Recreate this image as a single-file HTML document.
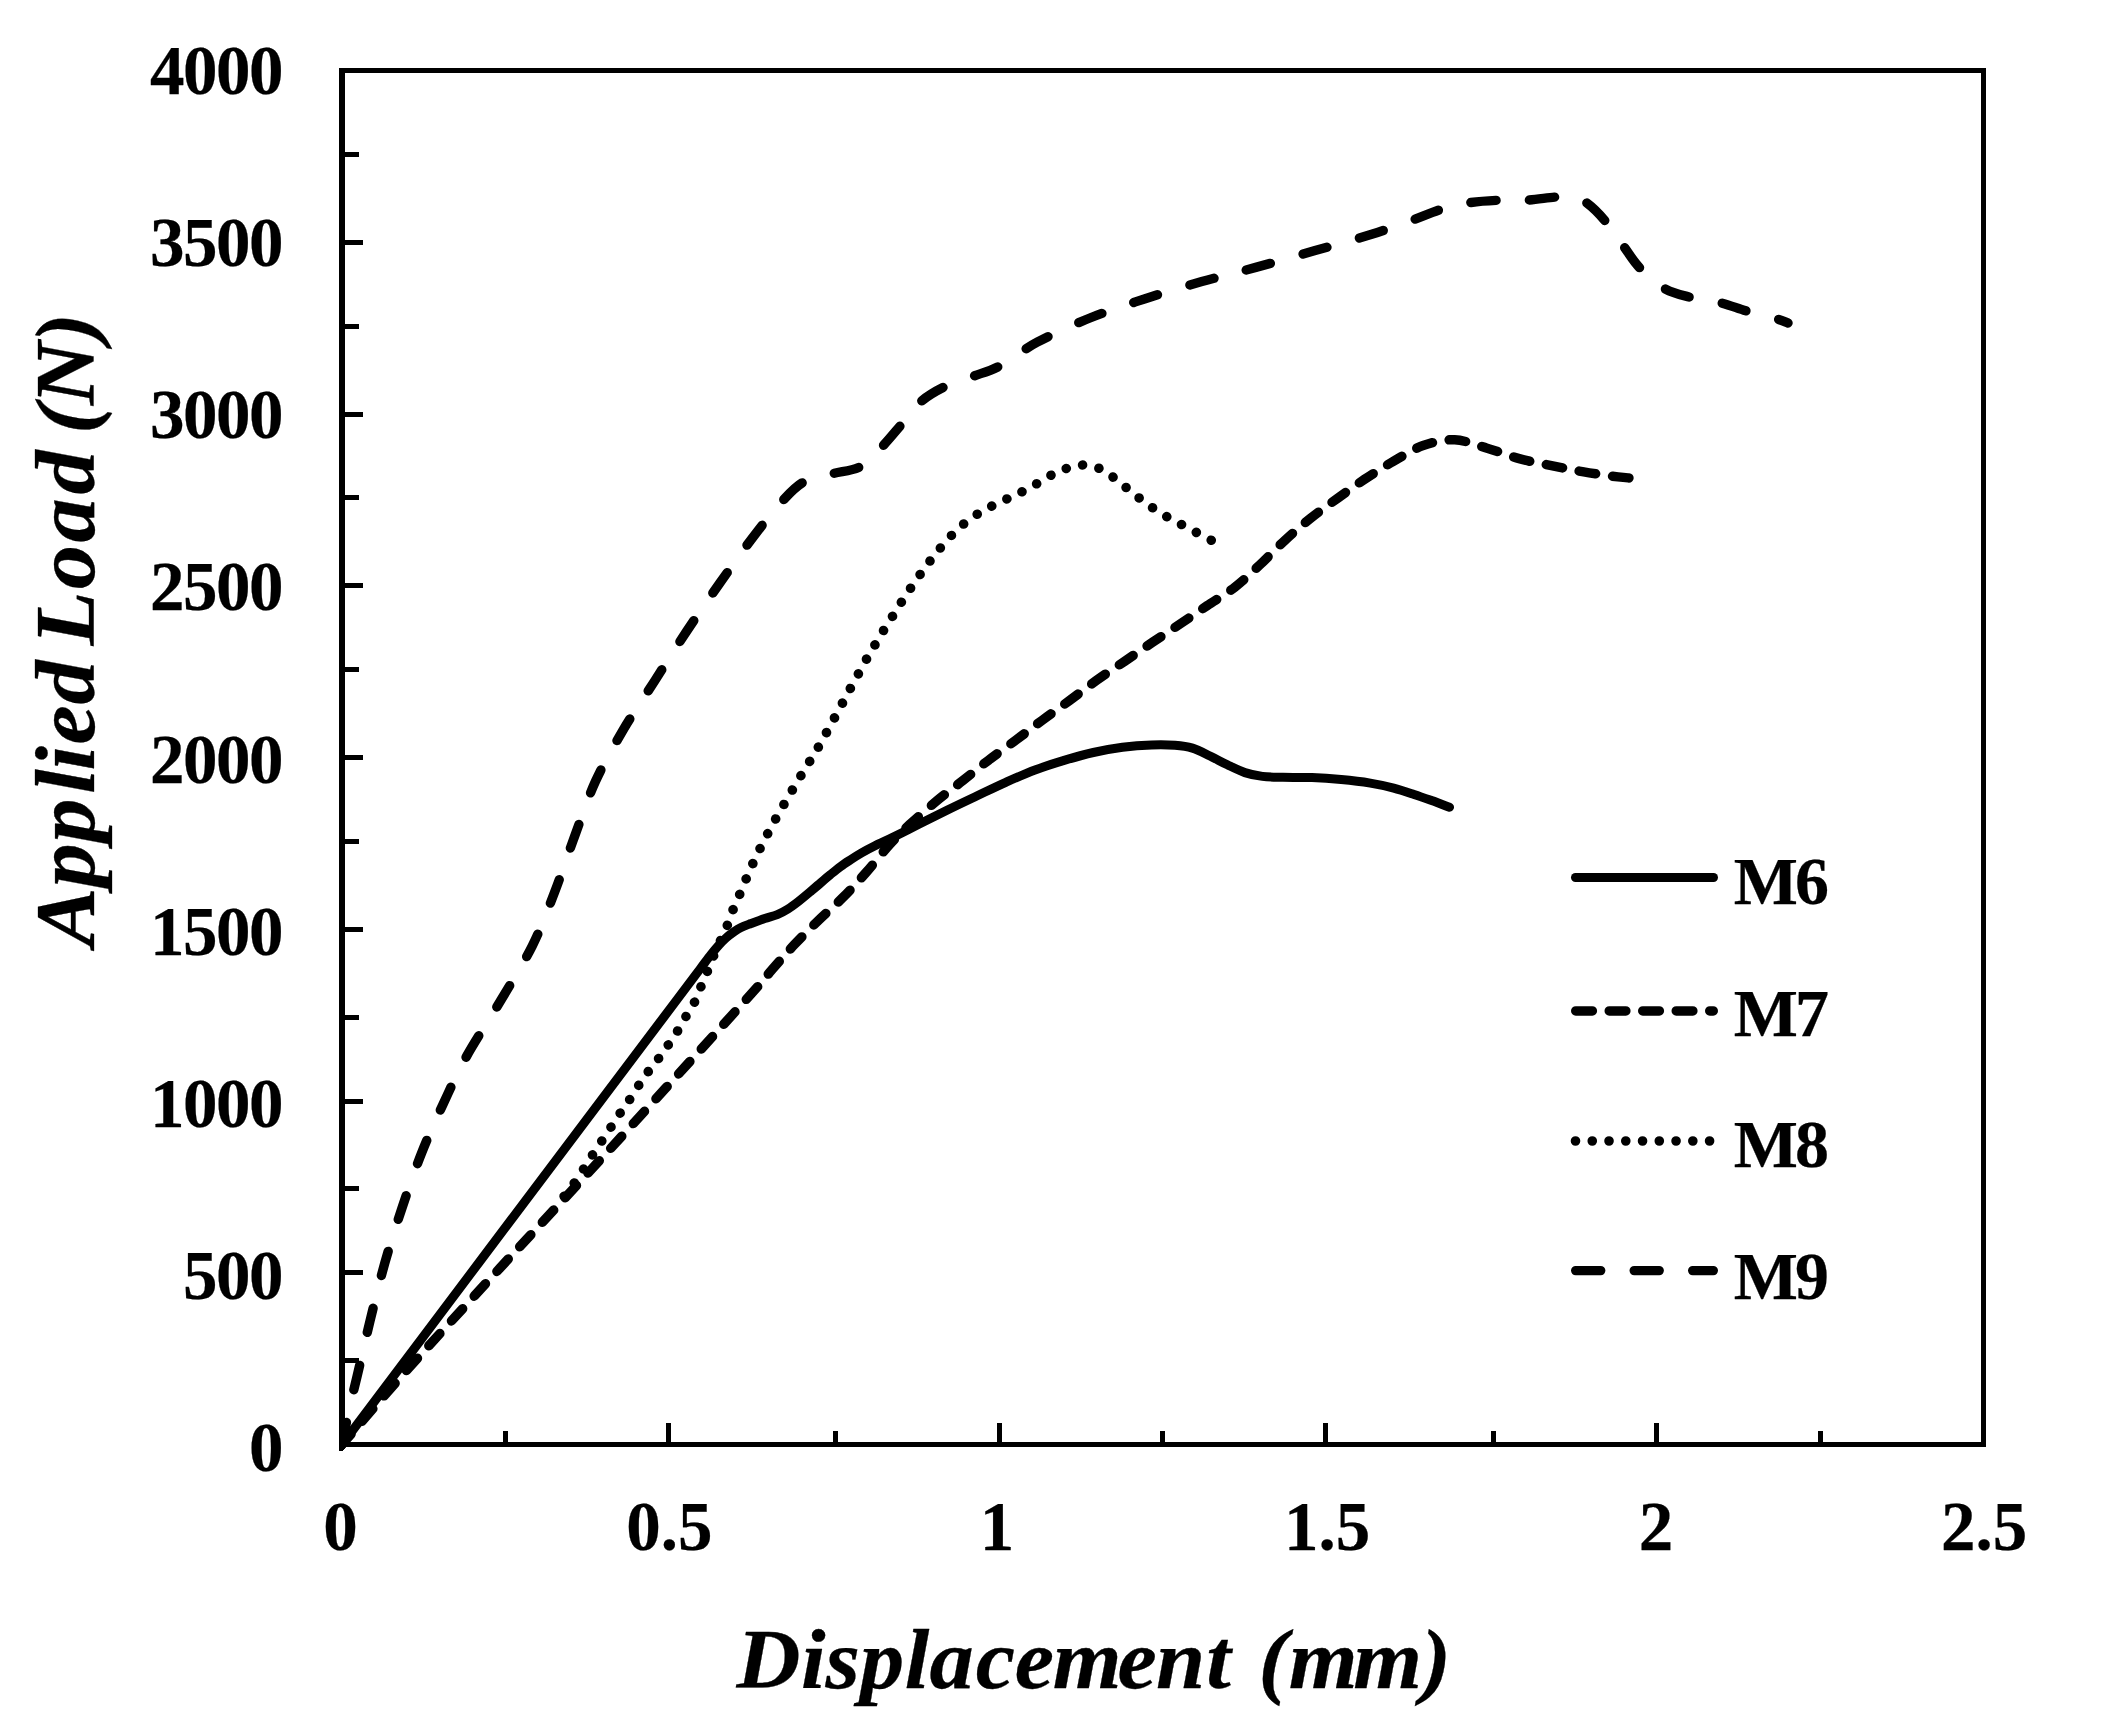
<!DOCTYPE html>
<html lang="en">
<head>
<meta charset="utf-8">
<title>Applied Load vs Displacement</title>
<style>
html,body{margin:0;padding:0;background:#fff;}
body{width:2126px;height:1733px;overflow:hidden;}
svg{display:block;}
text{font-family:"Liberation Serif","Times New Roman",serif;font-weight:bold;fill:#000;stroke:#000;stroke-width:0.25px;stroke-linejoin:round;}
.tick{font-size:69px;}
.leg{font-size:68px;}
.ttl{font-style:italic;stroke-width:0.3px;}
.crv{fill:none;stroke:#000;stroke-linecap:round;stroke-linejoin:round;}
</style>
</head>
<body>
<svg width="2126" height="1733" viewBox="0 0 2126 1733" shape-rendering="crispEdges">
<rect x="0" y="0" width="2126" height="1733" fill="#fff"/>
<g fill="#000">
<rect x="339" y="68" width="6" height="1379"/>
<rect x="1981" y="68" width="5" height="1379"/>
<rect x="339" y="68" width="1647" height="5"/>
<rect x="339" y="1442" width="1647" height="5"/>
<rect x="345" y="240" width="18" height="5"/>
<rect x="345" y="412" width="18" height="5"/>
<rect x="345" y="583" width="18" height="5"/>
<rect x="345" y="755" width="18" height="5"/>
<rect x="345" y="927" width="18" height="5"/>
<rect x="345" y="1099" width="18" height="5"/>
<rect x="345" y="1270" width="18" height="5"/>
<rect x="345" y="152" width="14" height="5"/>
<rect x="345" y="324" width="14" height="5"/>
<rect x="345" y="495" width="14" height="5"/>
<rect x="345" y="667" width="14" height="5"/>
<rect x="345" y="839" width="14" height="5"/>
<rect x="345" y="1015" width="14" height="5"/>
<rect x="345" y="1186" width="14" height="5"/>
<rect x="345" y="1358" width="14" height="5"/>
<rect x="666" y="1423" width="5" height="19"/>
<rect x="997" y="1423" width="5" height="19"/>
<rect x="1323" y="1423" width="5" height="19"/>
<rect x="1654" y="1423" width="5" height="19"/>
<rect x="503" y="1431" width="5" height="11"/>
<rect x="833" y="1431" width="5" height="11"/>
<rect x="1160" y="1431" width="5" height="11"/>
<rect x="1491" y="1431" width="5" height="11"/>
<rect x="1818" y="1431" width="5" height="11"/>
</g>
<g class="tick" text-anchor="end" letter-spacing="-1.5">
<text x="282" y="94.2">4000</text>
<text x="282" y="266.3">3500</text>
<text x="282" y="438.4">3000</text>
<text x="282" y="610.4">2500</text>
<text x="282" y="782.5">2000</text>
<text x="282" y="954.6">1500</text>
<text x="282" y="1126.7">1000</text>
<text x="282" y="1298.8">500</text>
<text x="282" y="1470.8">0</text>
</g>
<g class="tick" text-anchor="middle">
<text x="340.5" y="1549.5">0</text>
<text x="669.3" y="1549.5">0.5</text>
<text x="997.0" y="1549.5">1</text>
<text x="1327.0" y="1549.5">1.5</text>
<text x="1656.0" y="1549.5">2</text>
<text x="1984.0" y="1549.5">2.5</text>
</g>
<text class="ttl" id="xt" transform="translate(735.8,1688.2) scale(1.041,1)" font-size="85" dx="0.77 0.38 0.00 0.00 0.67 0.00 2.02 -0.38 -1.15 -4.03 -0.58 1.06 0.00 5.09 0.96 -4.32 -0.48">Displacement (mm)</text>
<text class="ttl" id="yt" transform="translate(93.7,946.5) rotate(-90) scale(1.04,1)" font-size="85" dx="0.00 0.00 0.48 4.71 -1.35 1.44 0.67 0.00 -6.92 2.12 2.60 3.56 0.00 -5.38 -0.96 -0.96">Applied Load (N)</text>
<defs><clipPath id="pc"><rect x="339" y="60" width="1660" height="1391"/></clipPath></defs>
<path d="M339 1447H345V1448L342.5 1451H339Z" fill="#000"/>
<g class="crv" shape-rendering="geometricPrecision" stroke-width="9" clip-path="url(#pc)">
<path id="m7" stroke-width="9.5" d="M342.0 1444.5 C352.7 1432.2 379.7 1400.4 406.0 1371.0 C432.3 1341.6 467.7 1303.2 500.0 1268.0 C532.3 1232.8 559.0 1204.7 600.0 1160.0 C641.0 1115.3 717.0 1031.7 745.7 1000.0 C774.4 968.3 763.9 978.8 772.0 969.6 C780.1 960.4 786.7 952.7 794.4 944.6 C802.1 936.5 809.9 928.8 818.0 920.9 C826.1 913.0 835.1 905.4 843.2 897.2 C851.3 889.1 858.8 880.7 866.5 872.0 C874.2 863.3 882.0 852.9 889.2 845.0 C896.4 837.1 901.7 831.9 909.6 824.6 C917.5 817.3 927.6 808.5 936.4 801.2 C945.2 793.9 954.0 787.6 962.6 780.8 C971.2 774.0 979.4 767.2 988.3 760.4 C997.2 753.6 1007.0 746.7 1016.0 740.0 C1025.0 733.3 1033.4 726.8 1042.3 720.2 C1051.2 713.6 1060.3 707.3 1069.4 700.6 C1078.5 693.9 1087.6 686.8 1096.8 680.2 C1106.0 673.6 1115.5 667.5 1124.8 661.2 C1134.1 654.9 1143.3 648.5 1152.5 642.3 C1161.7 636.1 1171.1 630.0 1180.2 623.9 C1189.3 617.8 1197.9 611.9 1207.0 605.8 C1216.1 599.7 1226.0 594.0 1234.8 587.2 C1243.6 580.4 1251.5 572.7 1259.8 564.9 C1268.1 557.1 1276.3 548.2 1284.8 540.4 C1293.3 532.6 1301.8 525.3 1310.6 518.3 C1319.4 511.3 1328.5 504.8 1337.5 498.3 C1346.5 491.8 1355.3 485.5 1364.6 479.3 C1373.9 473.1 1383.5 467.0 1393.3 461.4 C1403.0 455.8 1412.9 449.2 1423.1 445.6 C1433.3 442.0 1444.0 439.4 1454.7 439.8 C1465.4 440.2 1476.3 445.1 1487.1 448.2 C1497.8 451.3 1508.5 455.8 1519.2 458.7 C1529.9 461.6 1540.6 463.4 1551.4 465.6 C1562.2 467.8 1572.7 470.0 1583.8 471.9 C1594.9 473.8 1610.3 475.9 1618.0 476.9 C1625.7 477.9 1628.0 477.8 1630.0 478.0" stroke-dasharray="16.6 16.95" stroke-dashoffset="2.6"/>
<path id="m8" stroke-width="9.6" d="M564.1 1196.2 C565.6 1194.2 570.2 1188.7 573.2 1184.5 C576.2 1180.3 579.4 1175.5 582.4 1170.8 C585.4 1166.1 588.5 1161.2 591.5 1156.5 C594.5 1151.8 597.6 1147.3 600.6 1142.8 C603.6 1138.2 606.5 1133.9 609.6 1129.2 C612.7 1124.5 615.9 1119.5 619.0 1114.8 C622.1 1110.1 625.3 1106.1 628.5 1101.3 C631.7 1096.5 634.9 1091.0 638.2 1086.1 C641.5 1081.2 644.9 1076.2 648.2 1071.7 C651.5 1067.2 654.8 1063.6 658.0 1059.3 C661.2 1055.0 664.2 1050.7 667.4 1046.1 C670.6 1041.5 674.2 1036.4 677.2 1031.6 C680.2 1026.8 682.8 1021.9 685.6 1017.1 C688.5 1012.3 691.8 1007.7 694.3 1002.6 C696.8 997.5 698.7 992.1 700.9 986.8 C703.1 981.5 705.3 976.3 707.5 971.0 C709.7 965.7 710.7 962.6 714.0 955.0 C717.3 947.4 724.0 933.1 727.2 925.6 C730.4 918.1 730.9 915.0 733.0 909.8 C735.1 904.6 736.3 902.3 739.6 894.6 C742.9 886.9 748.1 873.8 752.8 863.7 C757.4 853.6 762.3 843.9 767.5 834.0 C772.7 824.1 778.3 814.2 783.9 804.5 C789.5 794.8 795.2 785.1 801.0 775.5 C806.8 765.9 812.8 756.7 818.4 747.0 C824.0 737.3 829.3 727.4 834.7 717.5 C840.1 707.6 845.4 697.6 850.7 687.8 C856.1 678.0 862.7 665.9 866.8 658.6 C870.9 651.3 872.5 648.9 875.4 644.1 C878.3 639.3 881.1 634.4 884.1 629.6 C887.1 624.8 890.1 620.1 893.1 615.4 C896.1 610.7 899.0 605.9 902.0 601.2 C905.0 596.5 908.1 591.9 911.3 587.2 C914.5 582.5 917.8 577.7 921.0 573.2 C924.2 568.7 927.5 564.3 930.8 560.0 C934.1 555.7 937.4 551.5 941.0 547.2 C944.6 543.0 948.4 538.5 952.4 534.5 C956.4 530.5 960.4 526.7 964.7 523.2 C969.1 519.7 973.8 516.4 978.5 513.4 C983.2 510.4 987.9 508.0 992.9 505.5 C997.9 503.0 1003.4 500.6 1008.5 498.2 C1013.6 495.8 1018.5 493.6 1023.5 491.0 C1028.5 488.4 1033.4 485.7 1038.2 482.9 C1043.0 480.1 1047.5 476.9 1052.5 474.4 C1057.5 471.9 1062.7 469.5 1068.0 467.9 C1073.3 466.3 1078.7 464.8 1084.1 465.0 C1089.5 465.2 1095.4 466.7 1100.4 468.9 C1105.5 471.1 1109.9 474.8 1114.4 478.1 C1118.9 481.4 1123.2 485.2 1127.5 488.7 C1131.8 492.2 1136.1 495.7 1140.5 499.0 C1144.9 502.3 1149.2 505.6 1153.9 508.7 C1158.6 511.8 1163.5 514.8 1168.4 517.6 C1173.3 520.4 1178.4 522.9 1183.4 525.5 C1188.4 528.1 1193.5 530.9 1198.4 533.5 C1203.3 536.1 1210.5 539.8 1212.9 541.1" stroke-dasharray="0.01 16.7" stroke-dashoffset="0"/>
<path id="m9" stroke-width="9.4" d="M342.0 1444.5 C343.2 1438.8 346.5 1421.3 349.0 1410.0 C351.5 1398.7 353.5 1391.5 357.0 1376.7 C360.5 1361.9 365.4 1340.0 370.0 1321.0 C374.6 1302.0 379.5 1281.8 384.8 1263.0 C390.1 1244.2 395.9 1226.4 402.0 1208.0 C408.1 1189.6 414.9 1170.0 421.7 1152.8 C428.5 1135.6 435.2 1121.0 442.7 1105.0 C450.1 1089.0 456.7 1074.1 466.4 1056.6 C476.1 1039.1 490.0 1018.5 501.0 1000.0 C512.0 981.5 523.3 963.9 532.3 945.9 C541.2 927.9 547.7 910.1 554.7 891.9 C561.7 873.7 567.7 855.0 574.5 836.6 C581.3 818.2 587.4 799.1 595.5 781.3 C603.6 763.5 613.3 746.7 623.2 729.9 C633.1 713.1 644.3 697.1 654.8 680.7 C665.3 664.3 675.6 647.9 686.4 631.7 C697.2 615.5 708.2 599.5 719.5 583.5 C730.8 567.5 743.4 549.7 754.0 535.8 C764.6 521.9 774.7 509.3 783.0 500.3 C791.3 491.3 795.9 486.2 804.0 481.8 C812.1 477.4 822.2 476.4 831.7 473.9 C841.2 471.3 852.4 471.0 860.7 466.5 C869.1 462.0 875.0 454.0 881.8 447.0 C888.6 440.0 895.1 431.8 901.5 424.4 C907.9 416.9 912.8 408.6 920.0 402.3 C927.2 396.0 936.2 390.8 945.0 386.5 C953.8 382.2 963.6 379.8 972.7 376.4 C981.8 373.0 989.0 371.6 999.8 365.9 C1010.5 360.2 1022.2 350.2 1037.2 342.2 C1052.2 334.2 1071.9 325.2 1089.9 318.0 C1107.9 310.8 1126.6 304.8 1145.2 298.7 C1163.8 292.6 1183.4 286.8 1201.8 281.6 C1220.2 276.4 1236.9 272.6 1255.8 267.4 C1274.7 262.2 1295.8 256.1 1315.1 250.6 C1334.4 245.1 1355.7 239.3 1371.7 234.3 C1387.7 229.3 1399.6 224.8 1411.2 220.6 C1422.8 216.4 1432.0 212.2 1441.5 209.3 C1451.0 206.4 1458.2 204.4 1467.9 202.9 C1477.6 201.4 1489.6 200.6 1499.5 200.2 C1509.4 199.8 1517.4 200.8 1527.1 200.2 C1536.8 199.6 1549.8 197.3 1557.4 196.9 C1565.1 196.5 1568.2 197.0 1573.0 198.0 C1577.8 199.0 1581.1 198.9 1586.4 202.7 C1591.7 206.5 1598.6 213.2 1604.9 220.6 C1611.2 228.0 1618.3 239.0 1624.1 246.9 C1629.9 254.8 1633.2 261.1 1639.9 268.0 C1646.6 274.9 1655.9 283.5 1664.1 288.3 C1672.3 293.1 1679.8 294.6 1689.2 297.0 C1698.7 299.4 1711.2 300.4 1720.8 302.8 C1730.4 305.2 1737.9 308.6 1747.1 311.2 C1756.3 313.8 1769.2 316.6 1776.0 318.6 C1782.8 320.6 1786.0 322.3 1788.0 323.0" stroke-dasharray="25 33.67" stroke-dashoffset="2.5"/>
<path id="m6" d="M342.0 1444.5 C364.9 1414.1 436.3 1319.3 479.4 1262.0 C522.5 1204.7 567.4 1145.2 600.8 1100.8 C634.2 1056.4 663.5 1017.5 680.0 995.6 C696.5 973.7 694.8 976.0 700.0 969.1 C705.2 962.2 707.8 958.5 711.0 954.5 C714.2 950.5 716.5 947.8 719.0 945.0 C721.5 942.2 723.7 940.1 726.0 938.0 C728.3 935.9 730.5 934.2 733.0 932.5 C735.5 930.8 738.0 929.0 741.0 927.5 C744.0 926.0 747.0 925.0 751.0 923.5 C755.0 922.0 760.3 920.0 764.7 918.5 C769.1 917.0 773.4 916.2 777.3 914.6 C781.2 913.0 784.5 911.2 788.0 909.0 C791.5 906.8 794.4 904.6 798.4 901.5 C802.4 898.4 807.9 893.7 811.7 890.5 C815.5 887.3 818.0 885.2 821.1 882.5 C824.2 879.8 827.3 877.1 830.5 874.5 C833.7 871.9 837.1 869.1 840.5 866.6 C843.9 864.1 847.5 861.8 851.0 859.5 C854.5 857.2 857.6 855.2 861.6 852.9 C865.6 850.6 870.4 848.1 875.0 845.8 C879.6 843.5 882.0 842.6 889.2 839.1 C896.4 835.6 908.6 829.5 918.3 824.6 C928.0 819.8 937.8 814.8 947.5 810.0 C957.2 805.2 967.0 800.6 976.7 796.0 C986.4 791.4 996.1 786.6 1005.8 782.3 C1015.5 778.0 1025.3 773.6 1035.0 770.0 C1044.7 766.4 1054.4 763.3 1064.1 760.4 C1073.8 757.5 1083.6 754.7 1093.3 752.5 C1103.0 750.3 1112.8 748.6 1122.5 747.3 C1132.2 746.0 1142.8 745.2 1151.6 744.9 C1160.3 744.5 1168.2 744.7 1175.0 745.2 C1181.8 745.7 1186.7 746.3 1192.5 748.1 C1198.3 749.9 1204.2 753.2 1210.0 756.0 C1215.8 758.8 1221.6 762.0 1227.4 764.8 C1233.2 767.6 1239.1 770.7 1244.9 772.6 C1250.7 774.5 1256.1 775.6 1262.4 776.4 C1268.7 777.2 1274.6 777.1 1282.9 777.3 C1291.2 777.5 1302.3 777.2 1312.0 777.6 C1321.7 778.0 1331.5 778.7 1341.2 779.6 C1350.9 780.5 1361.5 781.7 1370.3 783.1 C1379.0 784.5 1386.4 786.2 1393.7 788.1 C1401.0 790.0 1407.8 792.4 1414.1 794.5 C1420.4 796.6 1425.7 798.5 1431.6 800.6 C1437.5 802.7 1446.5 806.1 1449.5 807.2"/>
<path d="M1575.5 877.5H1713.5"/>
<path stroke-width="9.5" d="M1575.75 1010.9H1713.25" stroke-dasharray="16.6 16.9"/>
<path stroke-width="9.6" d="M1575.5 1141H1713.25" stroke-dasharray="0.01 16.75"/>
<path stroke-width="9.4" d="M1575.7 1270.6H1713.3" stroke-dasharray="25 33.5"/>
</g>
<g class="leg">
<text x="1733.7" y="903.5">M<tspan dx="-3">6</tspan></text>
<text x="1733.7" y="1035.6">M<tspan dx="-3">7</tspan></text>
<text x="1733.7" y="1166.8">M<tspan dx="-3">8</tspan></text>
<text x="1733.7" y="1298.7">M<tspan dx="-3">9</tspan></text>
</g>
</svg>
</body>
</html>
